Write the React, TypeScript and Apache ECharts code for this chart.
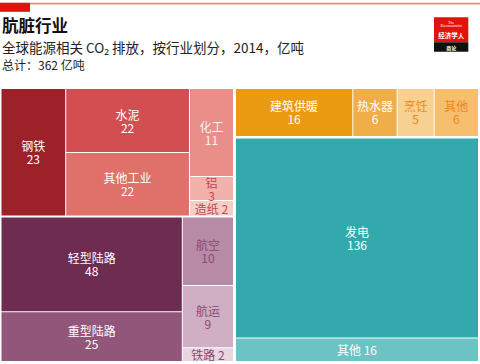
import React, { useEffect, useRef } from 'react';
import * as echarts from 'echarts';

// ---- Data (亿吨, 2014) ----
const industryNames = ['钢铁', '水泥', '其他工业', '化工', '铝', '造纸'];
const industryValues = [23, 22, 22, 11, 3, 2];
const transportNames = ['轻型陆路', '重型陆路', '航空', '航运', '铁路'];
const transportValues = [48, 25, 10, 9, 2];
const buildingNames = ['建筑供暖', '热水器', '烹饪', '其他'];
const buildingValues = [16, 6, 5, 6];
const powerNames = ['发电', '其他'];
const powerValues = [136, 16];

const titleText = '肮脏行业';
const subtitleText = '全球能源相关 CO₂ 排放，按行业划分，2014，亿吨';
const totalText = '总计：362 亿吨';

// ---- Styles ----
const industryColors = ['#9c2128', '#d24e50', '#e0706a', '#e98e88', '#f2b1ab', '#f7cdc7'];
const industryText = ['#ffffff', '#ffffff', '#ffffff', '#fdf0ee', '#c4484a', '#c4484a'];
const transportColors = ['#6f2c51', '#915679', '#b78aa5', '#d0aec3', '#e8d5e0'];
const transportText = ['#ffffff', '#ffffff', '#8a4a72', '#8a4a72', '#8a4a72'];
const buildingColors = ['#eb9b12', '#f0ae48', '#f8d092', '#f5bf6e'];
const buildingText = ['#ffffff', '#ffffff', '#e8891a', '#e8891a'];
const powerColors = ['#33a9ad', '#6dc2c3'];
const powerText = ['#ffffff', '#ffffff'];

const groups: Record<string, { names: string[]; values: number[]; colors: string[]; text: string[] }> = {
  industry: { names: industryNames, values: industryValues, colors: industryColors, text: industryText },
  transport: { names: transportNames, values: transportValues, colors: transportColors, text: transportText },
  building: { names: buildingNames, values: buildingValues, colors: buildingColors, text: buildingText },
  power: { names: powerNames, values: powerValues, colors: powerColors, text: powerText },
};

const inlineLabels = new Set(['industry:5', 'transport:4', 'power:1']);

type TreeNode =
  | { kind: 'leaf'; group: string; index: number }
  | { kind: 'split'; dir: 'h' | 'v'; gap: number; children: TreeNode[] };

const L = (group: string, index: number): TreeNode => ({ kind: 'leaf', group, index });
const H = (gap: number, children: TreeNode[]): TreeNode => ({ kind: 'split', dir: 'h', gap, children });
const V = (gap: number, children: TreeNode[]): TreeNode => ({ kind: 'split', dir: 'v', gap, children });

const tree: TreeNode = H(3, [
  V(2.2, [
    H(1, [L('industry', 0), V(1, [L('industry', 1), L('industry', 2)]), V(1, [L('industry', 3), L('industry', 4), L('industry', 5)])]),
    H(1, [V(1, [L('transport', 0), L('transport', 1)]), V(1, [L('transport', 2), L('transport', 3), L('transport', 4)])]),
  ]),
  V(2.5, [
    H(1, [L('building', 0), L('building', 1), L('building', 2), L('building', 3)]),
    V(1, [L('power', 0), L('power', 1)]),
  ]),
]);

function nodeValue(n: TreeNode): number {
  if (n.kind === 'leaf') return groups[n.group].values[n.index];
  return n.children.reduce((s, c) => s + nodeValue(c), 0);
}

type Inset = { l: number; t: number; r: number; b: number };
type Cell = {
  name: string; value: number; color: string; textColor: string; inline: boolean;
  x0: number; y0: number; x1: number; y1: number; inset: Inset;
};

function layout(n: TreeNode, x0: number, y0: number, x1: number, y1: number, inset: Inset, out: Cell[]) {
  if (n.kind === 'leaf') {
    const g = groups[n.group];
    out.push({
      name: g.names[n.index], value: g.values[n.index], color: g.colors[n.index], textColor: g.text[n.index],
      inline: inlineLabels.has(`${n.group}:${n.index}`), x0, y0, x1, y1, inset,
    });
    return;
  }
  const total = nodeValue(n);
  let pos = n.dir === 'h' ? x0 : y0;
  const len = n.dir === 'h' ? x1 - x0 : y1 - y0;
  n.children.forEach((c, i) => {
    const span = (len * nodeValue(c)) / total;
    const a = pos;
    const b = pos + span;
    pos = b;
    const ci = { ...inset };
    const last = n.children.length - 1;
    if (n.dir === 'h') {
      if (i > 0) ci.l = n.gap / 2;
      if (i < last) ci.r = n.gap / 2;
      layout(c, a, y0, b, y1, ci, out);
    } else {
      if (i > 0) ci.t = n.gap / 2;
      if (i < last) ci.b = n.gap / 2;
      layout(c, x0, a, x1, b, ci, out);
    }
  });
}

const cells: Cell[] = [];
layout(tree, 0, 0, 1, 1, { l: 0.5, t: 0.5, r: 0.5, b: 0.5 }, cells);

const FONT = '"Noto Sans CJK SC", "Noto Sans", sans-serif';

export default function App() {
  const ref = useRef<HTMLDivElement>(null);
  useEffect(() => {
    if (!ref.current) return;
    const chart = echarts.init(ref.current, undefined, { renderer: 'svg' });
    chart.setOption({
      animation: false,
      backgroundColor: '#ffffff',
      grid: { left: 1, top: 88.5, width: 477.5, height: 273, containLabel: false },
      xAxis: { type: 'value', min: 0, max: 1, show: false },
      yAxis: { type: 'value', min: 0, max: 1, inverse: true, show: false },
      series: [
        {
          type: 'custom',
          coordinateSystem: 'cartesian2d',
          clip: false,
          data: cells.map((c) => ({ name: c.name, value: [c.x0, c.y0, c.x1, c.y1, c.value] })),
          renderItem: (params: any, api: any) => {
            const cell = cells[params.dataIndex];
            const p0 = api.coord([api.value(0), api.value(1)]);
            const p1 = api.coord([api.value(2), api.value(3)]);
            const x = p0[0] + cell.inset.l;
            const y = p0[1] + cell.inset.t;
            const w = p1[0] - p0[0] - cell.inset.l - cell.inset.r;
            const h = p1[1] - p0[1] - cell.inset.t - cell.inset.b;
            const text = cell.inline ? `${cell.name} ${api.value(4)}` : `${cell.name}\n${api.value(4)}`;
            return {
              type: 'group',
              children: [
                { type: 'rect', shape: { x, y, width: w, height: h }, style: { fill: cell.color } },
                {
                  type: 'text',
                  style: {
                    text, x: x + w / 2, y: y + h / 2, align: 'center', verticalAlign: 'middle',
                    fill: cell.textColor, fontSize: 12, lineHeight: 13, fontFamily: FONT,
                  },
                },
              ],
            };
          },
        },
      ],
      graphic: [
        { type: 'rect', shape: { x: 0, y: 2.8, width: 480, height: 1.6 }, style: { fill: '#e28b7f' } },
        { type: 'rect', shape: { x: 0, y: 2.8, width: 30, height: 9 }, style: { fill: '#e3120b' } },
        {
          type: 'text', x: 2, y: 25,
          style: { text: titleText, fontSize: 16.5, fontWeight: 'bold', fill: '#111111', fontFamily: FONT, verticalAlign: 'middle' },
        },
        {
          type: 'text', x: 2, y: 47,
          style: { text: subtitleText, fontSize: 13.5, fill: '#222222', fontFamily: FONT, verticalAlign: 'middle' },
        },
        {
          type: 'text', x: 2, y: 64,
          style: { text: totalText, fontSize: 12, fill: '#222222', fontFamily: FONT, verticalAlign: 'middle' },
        },
        { type: 'rect', shape: { x: 434, y: 17.3, width: 34.3, height: 25 }, style: { fill: '#e3120b' } },
        { type: 'rect', shape: { x: 434, y: 42.3, width: 34.3, height: 9.4 }, style: { fill: '#111111' } },
        {
          type: 'text', x: 451.2, y: 22,
          style: { text: 'The', fontSize: 4, fill: '#ffffff', fontFamily: '"Liberation Serif", serif', align: 'center', verticalAlign: 'middle' },
        },
        {
          type: 'text', x: 451.2, y: 25.8,
          style: { text: 'Economist', fontSize: 5, fill: '#ffffff', fontFamily: '"Liberation Serif", serif', align: 'center', verticalAlign: 'middle' },
        },
        {
          type: 'text', x: 451.2, y: 35,
          style: { text: '经济学人', fontSize: 6.5, fontWeight: 'bold', fill: '#ffffff', fontFamily: FONT, align: 'center', verticalAlign: 'middle' },
        },
        {
          type: 'text', x: 451.2, y: 47,
          style: { text: '商论', fontSize: 5, fontWeight: 'bold', fill: '#ffffff', fontFamily: FONT, align: 'center', verticalAlign: 'middle' },
        },
      ],
    });
    return () => chart.dispose();
  }, []);
  return <div ref={ref} style={{ position: 'fixed', left: 0, top: 0, width: 480, height: 364 }} />;
}
